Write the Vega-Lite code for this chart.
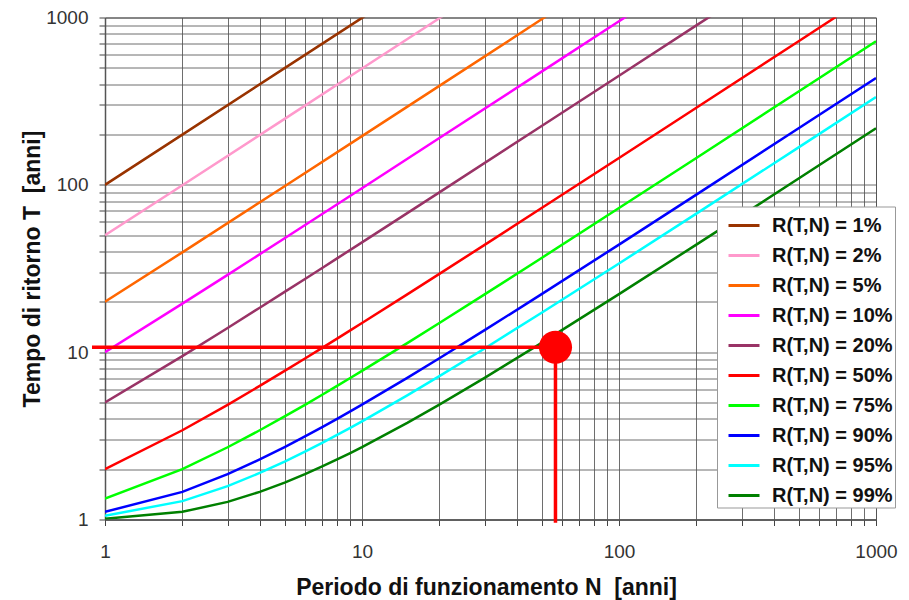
{
  "$schema": "https://vega.github.io/schema/vega-lite/v6.json",
  "width": 771,
  "height": 502,
  "autosize": {"type": "none"},
  "padding": {"left": 105, "top": 17.5, "right": 33, "bottom": 80.5},
  "background": "white",
  "config": {
    "view": {"stroke": "#555"},
    "font": "Liberation Sans"
  },
  "datasets": {
    "curves": [
      {"R": "R(T,N) = 1%", "N": 1, "T": 100},
      {"R": "R(T,N) = 1%", "N": 2, "T": 199.5},
      {"R": "R(T,N) = 1%", "N": 5, "T": 498},
      {"R": "R(T,N) = 1%", "N": 10, "T": 995.5},
      {"R": "R(T,N) = 1%", "N": 11, "T": 1095},
      {"R": "R(T,N) = 2%", "N": 1, "T": 50},
      {"R": "R(T,N) = 2%", "N": 2, "T": 99.5},
      {"R": "R(T,N) = 2%", "N": 5, "T": 248},
      {"R": "R(T,N) = 2%", "N": 10, "T": 495.5},
      {"R": "R(T,N) = 2%", "N": 20, "T": 990.5},
      {"R": "R(T,N) = 2%", "N": 21, "T": 1040},
      {"R": "R(T,N) = 5%", "N": 1, "T": 20},
      {"R": "R(T,N) = 5%", "N": 2, "T": 39.5},
      {"R": "R(T,N) = 5%", "N": 5, "T": 98.0},
      {"R": "R(T,N) = 5%", "N": 10, "T": 195.5},
      {"R": "R(T,N) = 5%", "N": 20, "T": 390.4},
      {"R": "R(T,N) = 5%", "N": 50, "T": 975.3},
      {"R": "R(T,N) = 5%", "N": 52, "T": 1014.3},
      {"R": "R(T,N) = 10%", "N": 1, "T": 10},
      {"R": "R(T,N) = 10%", "N": 2, "T": 19.49},
      {"R": "R(T,N) = 10%", "N": 3, "T": 28.98},
      {"R": "R(T,N) = 10%", "N": 5, "T": 47.96},
      {"R": "R(T,N) = 10%", "N": 10, "T": 95.42},
      {"R": "R(T,N) = 10%", "N": 20, "T": 190.3},
      {"R": "R(T,N) = 10%", "N": 50, "T": 475.1},
      {"R": "R(T,N) = 10%", "N": 100, "T": 949.6},
      {"R": "R(T,N) = 10%", "N": 110, "T": 1044.5},
      {"R": "R(T,N) = 20%", "N": 1, "T": 5},
      {"R": "R(T,N) = 20%", "N": 2, "T": 9.47},
      {"R": "R(T,N) = 20%", "N": 3, "T": 13.95},
      {"R": "R(T,N) = 20%", "N": 4, "T": 18.43},
      {"R": "R(T,N) = 20%", "N": 5, "T": 22.91},
      {"R": "R(T,N) = 20%", "N": 6, "T": 27.39},
      {"R": "R(T,N) = 20%", "N": 7, "T": 31.87},
      {"R": "R(T,N) = 20%", "N": 8, "T": 36.35},
      {"R": "R(T,N) = 20%", "N": 10, "T": 45.32},
      {"R": "R(T,N) = 20%", "N": 20, "T": 90.13},
      {"R": "R(T,N) = 20%", "N": 50, "T": 224.6},
      {"R": "R(T,N) = 20%", "N": 100, "T": 448.6},
      {"R": "R(T,N) = 20%", "N": 200, "T": 896.8},
      {"R": "R(T,N) = 20%", "N": 250, "T": 1120.9},
      {"R": "R(T,N) = 50%", "N": 1, "T": 2},
      {"R": "R(T,N) = 50%", "N": 2, "T": 3.414},
      {"R": "R(T,N) = 50%", "N": 3, "T": 4.847},
      {"R": "R(T,N) = 50%", "N": 4, "T": 6.285},
      {"R": "R(T,N) = 50%", "N": 5, "T": 7.725},
      {"R": "R(T,N) = 50%", "N": 6, "T": 9.166},
      {"R": "R(T,N) = 50%", "N": 7, "T": 10.607},
      {"R": "R(T,N) = 50%", "N": 8, "T": 12.049},
      {"R": "R(T,N) = 50%", "N": 9, "T": 13.491},
      {"R": "R(T,N) = 50%", "N": 10, "T": 14.93},
      {"R": "R(T,N) = 50%", "N": 15, "T": 22.14},
      {"R": "R(T,N) = 50%", "N": 20, "T": 29.36},
      {"R": "R(T,N) = 50%", "N": 30, "T": 43.78},
      {"R": "R(T,N) = 50%", "N": 50, "T": 72.64},
      {"R": "R(T,N) = 50%", "N": 100, "T": 144.77},
      {"R": "R(T,N) = 50%", "N": 200, "T": 289.04},
      {"R": "R(T,N) = 50%", "N": 500, "T": 721.8},
      {"R": "R(T,N) = 50%", "N": 700, "T": 1010.4},
      {"R": "R(T,N) = 75%", "N": 1, "T": 1.3333},
      {"R": "R(T,N) = 75%", "N": 2, "T": 2},
      {"R": "R(T,N) = 75%", "N": 3, "T": 2.7024},
      {"R": "R(T,N) = 75%", "N": 4, "T": 3.4142},
      {"R": "R(T,N) = 75%", "N": 5, "T": 4.1298},
      {"R": "R(T,N) = 75%", "N": 6, "T": 4.8473},
      {"R": "R(T,N) = 75%", "N": 7, "T": 5.566},
      {"R": "R(T,N) = 75%", "N": 8, "T": 6.2852},
      {"R": "R(T,N) = 75%", "N": 9, "T": 7.005},
      {"R": "R(T,N) = 75%", "N": 10, "T": 7.725},
      {"R": "R(T,N) = 75%", "N": 15, "T": 11.327},
      {"R": "R(T,N) = 75%", "N": 20, "T": 14.93},
      {"R": "R(T,N) = 75%", "N": 30, "T": 22.14},
      {"R": "R(T,N) = 75%", "N": 50, "T": 36.57},
      {"R": "R(T,N) = 75%", "N": 100, "T": 72.64},
      {"R": "R(T,N) = 75%", "N": 200, "T": 144.77},
      {"R": "R(T,N) = 75%", "N": 500, "T": 361.2},
      {"R": "R(T,N) = 75%", "N": 1000, "T": 721.85},
      {"R": "R(T,N) = 90%", "N": 1, "T": 1.1111},
      {"R": "R(T,N) = 90%", "N": 2, "T": 1.4625},
      {"R": "R(T,N) = 90%", "N": 3, "T": 1.8662},
      {"R": "R(T,N) = 90%", "N": 4, "T": 2.2849},
      {"R": "R(T,N) = 90%", "N": 5, "T": 2.7097},
      {"R": "R(T,N) = 90%", "N": 6, "T": 3.1377},
      {"R": "R(T,N) = 90%", "N": 7, "T": 3.5674},
      {"R": "R(T,N) = 90%", "N": 8, "T": 3.9983},
      {"R": "R(T,N) = 90%", "N": 9, "T": 4.43},
      {"R": "R(T,N) = 90%", "N": 10, "T": 4.8621},
      {"R": "R(T,N) = 90%", "N": 15, "T": 7.027},
      {"R": "R(T,N) = 90%", "N": 20, "T": 9.1955},
      {"R": "R(T,N) = 90%", "N": 30, "T": 13.535},
      {"R": "R(T,N) = 90%", "N": 50, "T": 22.22},
      {"R": "R(T,N) = 90%", "N": 100, "T": 43.93},
      {"R": "R(T,N) = 90%", "N": 200, "T": 87.36},
      {"R": "R(T,N) = 90%", "N": 500, "T": 217.65},
      {"R": "R(T,N) = 90%", "N": 1000, "T": 434.8},
      {"R": "R(T,N) = 95%", "N": 1, "T": 1.0526},
      {"R": "R(T,N) = 95%", "N": 2, "T": 1.288},
      {"R": "R(T,N) = 95%", "N": 3, "T": 1.5833},
      {"R": "R(T,N) = 95%", "N": 4, "T": 1.8971},
      {"R": "R(T,N) = 95%", "N": 5, "T": 2.2187},
      {"R": "R(T,N) = 95%", "N": 6, "T": 2.5443},
      {"R": "R(T,N) = 95%", "N": 7, "T": 2.8722},
      {"R": "R(T,N) = 95%", "N": 8, "T": 3.2016},
      {"R": "R(T,N) = 95%", "N": 9, "T": 3.5319},
      {"R": "R(T,N) = 95%", "N": 10, "T": 3.863},
      {"R": "R(T,N) = 95%", "N": 15, "T": 5.5238},
      {"R": "R(T,N) = 95%", "N": 20, "T": 7.1886},
      {"R": "R(T,N) = 95%", "N": 30, "T": 10.523},
      {"R": "R(T,N) = 95%", "N": 50, "T": 17.196},
      {"R": "R(T,N) = 95%", "N": 100, "T": 33.88},
      {"R": "R(T,N) = 95%", "N": 200, "T": 67.26},
      {"R": "R(T,N) = 95%", "N": 500, "T": 167.4},
      {"R": "R(T,N) = 95%", "N": 1000, "T": 334.31},
      {"R": "R(T,N) = 99%", "N": 1, "T": 1.0101},
      {"R": "R(T,N) = 99%", "N": 2, "T": 1.1111},
      {"R": "R(T,N) = 99%", "N": 3, "T": 1.2746},
      {"R": "R(T,N) = 99%", "N": 4, "T": 1.4625},
      {"R": "R(T,N) = 99%", "N": 5, "T": 1.6614},
      {"R": "R(T,N) = 99%", "N": 6, "T": 1.8662},
      {"R": "R(T,N) = 99%", "N": 7, "T": 2.0745},
      {"R": "R(T,N) = 99%", "N": 8, "T": 2.2849},
      {"R": "R(T,N) = 99%", "N": 9, "T": 2.4968},
      {"R": "R(T,N) = 99%", "N": 10, "T": 2.7097},
      {"R": "R(T,N) = 99%", "N": 15, "T": 3.7828},
      {"R": "R(T,N) = 99%", "N": 20, "T": 4.8621},
      {"R": "R(T,N) = 99%", "N": 30, "T": 7.0273},
      {"R": "R(T,N) = 99%", "N": 50, "T": 11.365},
      {"R": "R(T,N) = 99%", "N": 100, "T": 22.219},
      {"R": "R(T,N) = 99%", "N": 200, "T": 43.93},
      {"R": "R(T,N) = 99%", "N": 500, "T": 109.07},
      {"R": "R(T,N) = 99%", "N": 1000, "T": 217.65}
    ],
    "marker": [
      {"N0": 0.89, "N": 56.6, "T": 10.7, "T0": 0.955}
    ]
  },
  "layer": [
    {
      "data": {"name": "curves"},
      "mark": {"type": "line", "clip": true, "strokeWidth": 2.5},
      "encoding": {
        "x": {
          "field": "N",
          "type": "quantitative",
          "scale": {"type": "log", "domain": [1, 1000], "nice": false},
          "axis": {
            "values": [1,2,3,4,5,6,7,8,9,10,20,30,40,50,60,70,80,90,100,200,300,400,500,600,700,800,900,1000],
            "labelExpr": "datum.value == 1 || datum.value == 10 || datum.value == 100 || datum.value == 1000 ? format(datum.value, 'd') : ''",
            "labelOverlap": false,
            "labelFlush": false,
            "labelBound": false,
            "labelFont": "Liberation Sans",
            "labelFontSize": 19,
            "labelColor": "#333",
            "labelBaseline": "alphabetic",
            "labelPadding": 32,
            "grid": true,
            "gridColor": "#555",
            "gridWidth": 1,
            "gridOpacity": 0.85,
            "tickSize": 6,
            "tickColor": "#444",
            "domainColor": "#555",
            "domainWidth": 1.5,
            "title": "Periodo di funzionamento N\u00a0 [anni]",
            "titleFont": "Liberation Sans",
            "titleFontSize": 23,
            "titleFontWeight": "bold",
            "titleColor": "#111",
            "titleBaseline": "alphabetic",
            "titleAlign": "center",
            "titleX": 381,
            "titleY": 74.5
          }
        },
        "y": {
          "field": "T",
          "type": "quantitative",
          "scale": {"type": "log", "domain": [1, 1000], "nice": false},
          "axis": {
            "values": [1,2,3,4,5,6,7,8,9,10,20,30,40,50,60,70,80,90,100,200,300,400,500,600,700,800,900,1000],
            "labelExpr": "datum.value == 1 || datum.value == 10 || datum.value == 100 || datum.value == 1000 ? format(datum.value, 'd') : ''",
            "labelOverlap": false,
            "labelFlush": false,
            "labelBound": false,
            "labelFont": "Liberation Sans",
            "labelFontSize": 19,
            "labelColor": "#333",
            "labelBaseline": "middle",
            "labelPadding": 11,
            "grid": true,
            "gridColor": "#555",
            "gridWidth": 1,
            "gridOpacity": 0.85,
            "tickSize": 6,
            "tickColor": "#444",
            "domainColor": "#555",
            "domainWidth": 1.5,
            "title": "Tempo di ritorno T\u00a0 [anni]",
            "titleFont": "Liberation Sans",
            "titleFontSize": 23,
            "titleFontWeight": "bold",
            "titleColor": "#111",
            "titleAngle": -90,
            "titleBaseline": "alphabetic",
            "titleAlign": "center",
            "titleX": -66,
            "titleY": 251
          }
        },
        "color": {
          "field": "R",
          "type": "nominal",
          "scale": {
            "domain": ["R(T,N) = 1%", "R(T,N) = 2%", "R(T,N) = 5%", "R(T,N) = 10%", "R(T,N) = 20%", "R(T,N) = 50%", "R(T,N) = 75%", "R(T,N) = 90%", "R(T,N) = 95%", "R(T,N) = 99%"],
            "range": ["#993300", "#FF99CC", "#FF6600", "#FF00FF", "#993366", "#FF0000", "#00FF00", "#0000FF", "#00FFFF", "#008000"]
          },
          "legend": {
            "orient": "none",
            "legendX": 612,
            "legendY": 189,
            "title": null,
            "padding": 2,
            "symbolType": "stroke",
            "symbolSize": 961,
            "symbolStrokeWidth": 3,
            "symbolOffset": 8,
            "labelFont": "Liberation Sans",
            "labelFontSize": 20,
            "labelFontWeight": "bold",
            "labelColor": "#111",
            "labelOffset": 11,
            "labelLimit": 300,
            "rowPadding": 3,
            "fillColor": "white",
            "strokeColor": "#999"
          }
        },
        "strokeWidth": {
          "condition": {"test": "datum.R == 'R(T,N) = 50%'", "value": 3.2},
          "value": 2.5
        }
      }
    },
    {
      "data": {"name": "marker"},
      "mark": {"type": "rule", "color": "#FF0000", "strokeWidth": 3.5},
      "encoding": {
        "x": {"field": "N0", "type": "quantitative"},
        "x2": {"field": "N"},
        "y": {"field": "T", "type": "quantitative"}
      }
    },
    {
      "data": {"name": "marker"},
      "mark": {"type": "rule", "color": "#FF0000", "strokeWidth": 3.5},
      "encoding": {
        "x": {"field": "N", "type": "quantitative"},
        "y": {"field": "T0", "type": "quantitative"},
        "y2": {"field": "T"}
      }
    },
    {
      "data": {"name": "marker"},
      "mark": {"type": "point", "filled": true, "color": "#FF0000", "opacity": 1, "size": 1100},
      "encoding": {
        "x": {"field": "N", "type": "quantitative"},
        "y": {"field": "T", "type": "quantitative"}
      }
    }
  ]
}
